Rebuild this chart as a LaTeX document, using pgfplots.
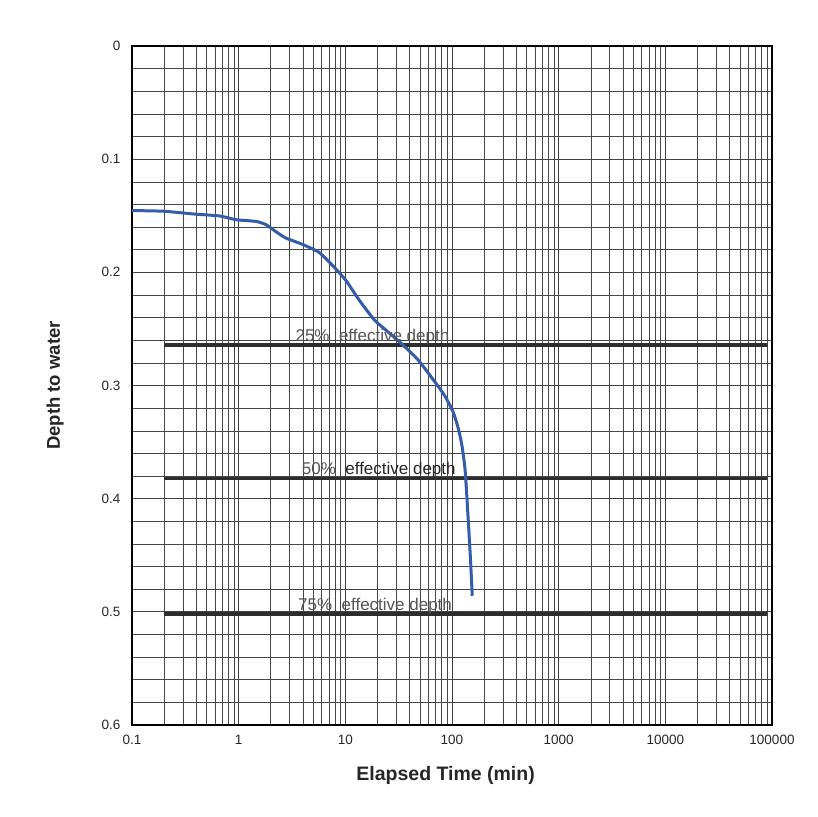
\documentclass[border=0pt]{standalone}
\usepackage{pgfplots}
\pgfplotsset{compat=1.18}
\usepackage{fontspec}
\setmainfont{Liberation Sans}
\definecolor{curveblue}{RGB}{52,92,170}
\definecolor{lvl}{RGB}{45,45,45}
\definecolor{lbl}{RGB}{85,85,85}
\begin{document}
\begin{tikzpicture}[x=1pt,y=1pt]
\path[use as bounding box] (-132,-92) rectangle (685,725);
\begin{axis}[
  at={(0,0)}, anchor=south west,
  scale only axis, width=640pt, height=679pt,
  xmode=log, xmin=0.1, xmax=100000,
  ymin=0, ymax=0.6, y dir=reverse,
  xtick={0.1,1,10,100,1000,10000,100000},
  xticklabels={0.1,1,10,100,1000,10000,100000},
  ytick={0,0.1,0.2,0.3,0.4,0.5,0.6},
  yticklabels={0,0.1,0.2,0.3,0.4,0.5,0.6},
  minor ytick={0.02,0.04,0.06,0.08,0.12,0.14,0.16,0.18,0.22,0.24,0.26,0.28,0.32,0.34,0.36,0.38,0.42,0.44,0.46,0.48,0.52,0.54,0.56,0.58},
  grid=both,
  major grid style={gray!50!black, line width=0.7pt},
  minor grid style={gray!55!black, line width=0.55pt},
  major tick length=0pt, minor tick length=0pt,
  axis line style={black, line width=1.2pt},
  /pgf/number format/assume math mode=true,
  ticklabel style={font=\fontsize{13.5}{15}\selectfont, text=black!85},
  xticklabel style={yshift=-7pt},
  yticklabel style={xshift=-8pt},
  xlabel={Elapsed Time (min)},
  ylabel={Depth to water},
  xlabel style={at={(axis description cs:0.49,-0.074)}, anchor=center, font=\fontsize{19.5}{22}\selectfont\bfseries, text=black!85},
  ylabel style={at={(axis description cs:-0.12,0.5)}, anchor=center, font=\fontsize{18.5}{21}\selectfont\bfseries, text=black!85},
  clip=false,
]
\addplot[lvl, line width=3.6pt] coordinates {(0.2,0.264) (90000,0.264)};
\addplot[lvl, line width=3.6pt] coordinates {(0.2,0.382) (90000,0.382)};
\addplot[lvl, line width=3.6pt] coordinates {(0.2,0.502) (90000,0.502)};
\addplot[curveblue, line width=3pt, smooth, tension=0.35] coordinates {
(0.1,0.1454) (0.197,0.146) (0.375,0.1484) (0.663,0.1502) (0.948,0.1535)
(1.455,0.155) (1.80,0.1578) (2.23,0.164) (2.77,0.1697) (3.97,0.1753)
(5.68,0.1824) (7.6,0.194) (10.1,0.207) (13.5,0.2246) (18.7,0.242)
(24.7,0.252) (33.0,0.2623) (47.5,0.2768) (65.9,0.2942) (85.2,0.3088)
(102.4,0.3234) (114.7,0.3381) (123.9,0.3529) (132.4,0.3735) (137.6,0.3971)
(143.6,0.4266) (149.6,0.4562) (154.8,0.4858)};
\node[anchor=base west, text=lbl, font=\fontsize{17}{19}\selectfont, inner sep=0pt] at (axis cs:3.4,0.261) {25\%\ \ effective depth};
\node[anchor=base west, text=lbl, font=\fontsize{17}{19}\selectfont, inner sep=0pt] at (axis cs:3.9,0.379) {50\%\ \ \textcolor{black!85}{effective depth}};
\node[anchor=base west, text=lbl, font=\fontsize{17}{19}\selectfont, inner sep=0pt] at (axis cs:3.6,0.499) {75\%\ \ effective depth};
\end{axis}
\end{tikzpicture}
\end{document}
